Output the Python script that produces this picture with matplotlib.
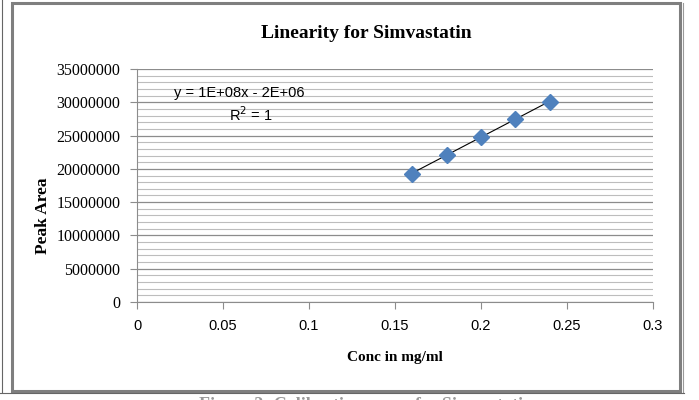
import numpy as np
import matplotlib.pyplot as plt
from matplotlib.patches import Rectangle
from matplotlib.ticker import MultipleLocator

conc = [0.16, 0.18, 0.20, 0.22, 0.24]
area = [19300000, 22100000, 24800000, 27500000, 30100000]
xticks = [0, 0.05, 0.1, 0.15, 0.2, 0.25, 0.3]
yticks = [0, 5000000, 10000000, 15000000, 20000000, 25000000, 30000000, 35000000]

fig = plt.figure(figsize=(6.99, 4.0), dpi=100)
fig.patch.set_facecolor('white')

# outer chart frame
fig.add_artist(Rectangle((12/699, 1 - 391/400), 668/699, 388/400, transform=fig.transFigure,
                         fill=False, edgecolor='#7f7f7f', linewidth=2.2))
fig.add_artist(plt.Line2D([683/699, 683/699], [1 - 392/400, 1 - 3/400], transform=fig.transFigure,
                          color='#9a9a9a', linewidth=0.8))
fig.add_artist(plt.Line2D([1.5/699, 1.5/699], [1 - 392/400, 1 - 0/400], transform=fig.transFigure,
                          color='#666666', linewidth=0.8))
fig.add_artist(plt.Line2D([0, 684/699], [1 - 392.5/400, 1 - 392.5/400], transform=fig.transFigure,
                          color='#666666', linewidth=0.8))

ax = fig.add_axes([137/699, 98/400, 516/699, 233/400])
ax.set_xlim(0, 0.3)
ax.set_ylim(0, 35000000)
ax.set_xticks(xticks)
ax.set_xticklabels([str(v) for v in xticks], family='Liberation Sans', fontsize=10.5)
ax.set_yticks(yticks)
ax.set_yticklabels([str(v) for v in yticks], family='Liberation Serif', fontsize=11.5)
ax.yaxis.set_minor_locator(MultipleLocator(1000000))
ax.grid(axis='y', which='major', color='#8c8c8c', linewidth=0.9)
ax.grid(axis='y', which='minor', color='#bdbdbd', linewidth=0.8)
ax.set_axisbelow(True)
for s in ['top', 'right']:
    ax.spines[s].set_visible(False)
for s in ['left', 'bottom']:
    ax.spines[s].set_color('#8c8c8c')
ax.tick_params(which='major', direction='out', length=5, color='#8c8c8c', pad=7)
ax.tick_params(axis='y', which='minor', length=0)

# trendline
coef = np.polyfit(conc, area, 1)
xs = np.array([conc[0], conc[-1]])
ax.plot(xs, np.polyval(coef, xs), color='black', linewidth=0.8, zorder=3)
ax.plot(conc, area, linestyle='none', marker='D', markersize=8.5, color='#4f81bd', zorder=4)

ax.text(0.0595, 31400000, 'y = 1E+08x - 2E+06', ha='center', va='center',
        family='Liberation Sans', fontsize=10.5)
ax.text(0.066, 28100000, 'R$^2$ = 1', ha='center', va='center',
        family='Liberation Sans', fontsize=10.5)

fig.text(366/699, 1 - 33/400, 'Linearity for Simvastatin', ha='center', va='center',
         family='Liberation Serif', fontsize=14, fontweight='bold')
fig.text(43/699, 1 - 216/400, 'Peak Area', ha='center', va='center', rotation=90,
         family='Liberation Serif', fontsize=12.5, fontweight='bold')
fig.text(395/699, 1 - 357/400, 'Conc in mg/ml', ha='center', va='center',
         family='Liberation Serif', fontsize=11, fontweight='bold')
# caption of the page, almost entirely below the picture
fig.text(366/699, 1 - 396.5/400, 'Figure 2: Calibration curve for Simvastatin', ha='center', va='top',
         family='Liberation Serif', fontsize=13, fontweight='bold', color='#999999')

fig.savefig('out.png', dpi=100)
